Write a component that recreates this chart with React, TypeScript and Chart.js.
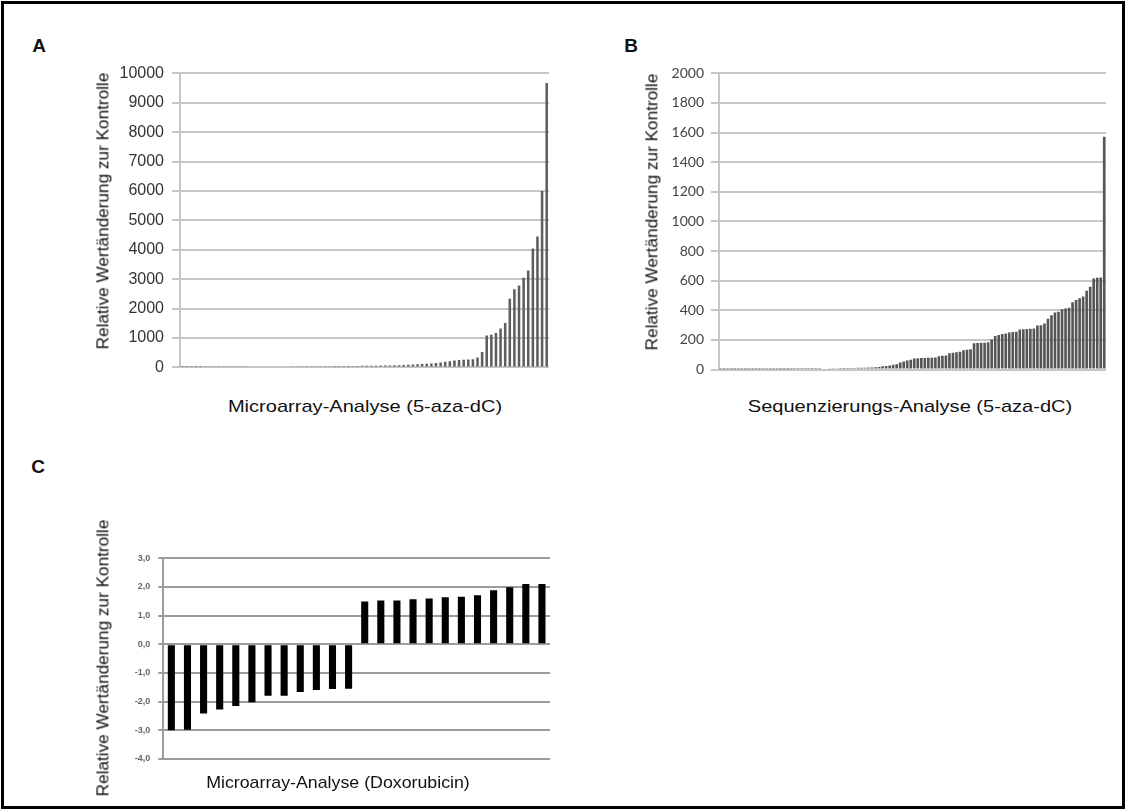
import React, { useEffect, useRef } from 'react';
import { Chart, registerables } from 'chart.js';

Chart.register(...registerables);

// Panel A: Microarray-Analyse (5-aza-dC)
const valuesA = [
  12, 14, 15, 16, 17, 18, 19, 20, 20, 21,
  22, 23, 24, 25, 26, 27, 27, 28, 29, 30,
  31, 32, 33, 34, 35, 36, 37, 38, 39, 40,
  41, 42, 43, 44, 45, 46, 47, 48, 50, 52,
  54, 56, 58,
  62, 65, 68, 72, 76, 80, 88, 96, 104, 112,
  122, 135, 150, 168, 188, 210, 232, 248, 258, 270,
  281, 335, 526, 1086, 1106, 1173, 1320, 1508, 2336, 2660,
  2782, 3050, 3297, 4045, 4450, 6000, 9670,
];

// Panel B: Sequenzierungs-Analyse (5-aza-dC)
const valuesB = [
  2, 2, 2, 2, 2, 2, 2, 2, 2, 3, 3, 3, 3, 3, 3, 3, 3, 3, 3, 3, 3,
  4, 4, 4, 4, 4, 4, 4, 4,
  8, 8, 9, 9, 9, 10, 10, 10, 11, 11, 12, 12, 13, 14, 15, 16, 18,
  22, 25, 28, 32, 36,
  48, 55, 62, 67,
  75, 77, 78, 79, 80, 80, 82,
  90, 93, 95,
  110, 114, 117, 120,
  130, 134, 137,
  178, 180, 181, 182, 184,
  204,
  227, 233, 240, 244,
  250, 253, 256,
  270, 272, 274, 276, 278,
  298, 300,
  311,
  344, 367,
  386, 390,
  407, 412, 417,
  455, 470, 482, 493,
  533, 560,
  615, 620, 622,
  1571,
];

// Panel C: Microarray-Analyse (Doxorubicin)
const valuesC = [
  -3.0, -2.98, -2.41, -2.27, -2.15, -2.02, -1.79, -1.79, -1.66, -1.59, -1.56, -1.55,
  1.49, 1.53, 1.53, 1.57, 1.6, 1.64, 1.66, 1.71, 1.89, 1.99, 2.1, 2.1,
];

const yLabel = 'Relative Wertänderung zur Kontrolle';
const titleA = 'Microarray-Analyse (5-aza-dC)';
const titleB = 'Sequenzierungs-Analyse (5-aza-dC)';
const titleC = 'Microarray-Analyse (Doxorubicin)';

const ARIAL = '"Liberation Sans", Arial, sans-serif';

type PanelProps = {
  values: number[];
  left: number;
  top: number;
  width: number;
  height: number;
  pad: { top: number; right: number; bottom: number };
  yWidth: number;
  min: number;
  max: number;
  step: number;
  barColor: string;
  barPct: number;
  gridColor: string;
  gridWidth: number;
  tickLength: number;
  tickPadding: number;
  tickFont: { family: string; size: number; weight?: string };
  tickColor: string;
  format: (v: number) => string;
};

function BarPanel(p: PanelProps) {
  const ref = useRef<HTMLCanvasElement | null>(null);
  useEffect(() => {
    if (!ref.current) return;
    const chart = new Chart(ref.current, {
      type: 'bar',
      data: {
        labels: p.values.map((_, i) => String(i + 1)),
        datasets: [
          {
            data: p.values,
            backgroundColor: p.barColor,
            borderWidth: 0,
            barPercentage: p.barPct,
            categoryPercentage: 1,
          },
        ],
      },
      options: {
        responsive: false,
        animation: false,
        devicePixelRatio: 1,
        layout: { padding: { top: p.pad.top, right: p.pad.right, bottom: p.pad.bottom, left: 0 } },
        plugins: { legend: { display: false }, tooltip: { enabled: false }, title: { display: false } },
        scales: {
          x: { display: false },
          y: {
            min: p.min,
            max: p.max,
            afterFit: (scale: any) => {
              scale.width = p.yWidth;
            },
            ticks: {
              stepSize: p.step,
              padding: p.tickPadding,
              color: p.tickColor,
              font: p.tickFont as any,
              callback: (v: any) => p.format(Number(v)),
            },
            grid: {
              color: p.gridColor,
              lineWidth: p.gridWidth,
              tickLength: p.tickLength,
              drawTicks: true,
            },
            border: { display: true, color: p.gridColor, width: p.gridWidth },
          },
        },
      },
    });
    return () => chart.destroy();
  }, []);
  return (
    <canvas
      ref={ref}
      width={p.width}
      height={p.height}
      style={{ position: 'absolute', left: p.left, top: p.top, width: p.width, height: p.height }}
    />
  );
}

function Text(props: {
  x: number;
  y: number;
  text: string;
  size: number;
  rotate?: boolean;
  bold?: boolean;
  stretch?: number;
}) {
  const parts = ['translate(-50%, -50%)'];
  if (props.rotate) parts.push('rotate(-90deg)');
  if (props.stretch) parts.push(`scaleX(${props.stretch})`);
  return (
    <div
      style={{
        position: 'absolute',
        left: props.x,
        top: props.y,
        transform: parts.join(' '),
        whiteSpace: 'nowrap',
        fontFamily: ARIAL,
        fontSize: props.size,
        fontWeight: props.bold ? 'bold' : 'normal',
        color: '#111',
        lineHeight: 1,
      }}
    >
      {props.text}
    </div>
  );
}

export default function App() {
  const fmtInt = (v: number) => String(v);
  const fmtC = (v: number) => v.toFixed(1).replace('.', ',');
  return (
    <div style={{ position: 'fixed', left: 0, top: 0, width: 1127, height: 811, background: '#fff', overflow: 'hidden' }}>
      <div
        style={{
          position: 'absolute',
          left: 1,
          top: 1,
          width: 1124,
          height: 808,
          border: '3px solid #000',
          boxSizing: 'border-box',
        }}
      />
      <Text x={39} y={45} text="A" size={19} bold />
      <Text x={631} y={45} text="B" size={19} bold />
      <Text x={38} y={466} text="C" size={19} bold />

      <BarPanel
        values={valuesA}
        left={80}
        top={55}
        width={480}
        height={330}
        pad={{ top: 18.3, right: 11, bottom: 13.3 }}
        yWidth={100}
        min={0}
        max={10000}
        step={1000}
        barColor="#5e5e5e"
        barPct={0.55}
        gridColor="#c6c6c6"
        gridWidth={2}
        tickLength={8}
        tickPadding={8}
        tickFont={{ family: ARIAL, size: 16 }}
        tickColor="#333"
        format={fmtInt}
      />
      <Text x={103} y={211} text={yLabel} size={17.2} rotate />
      <Text x={365} y={406} text={titleA} size={17} stretch={1.18} />

      <BarPanel
        values={valuesB}
        left={620}
        top={55}
        width={500}
        height={330}
        pad={{ top: 18.3, right: 14, bottom: 11.7 }}
        yWidth={99}
        min={0}
        max={2000}
        step={200}
        barColor="#555"
        barPct={0.75}
        gridColor="#c6c6c6"
        gridWidth={2}
        tickLength={8}
        tickPadding={7}
        tickFont={{ family: 'Lato, sans-serif', size: 14 }}
        tickColor="#444"
        format={fmtInt}
      />
      <Text x={652} y={212} text={yLabel} size={17.2} rotate />
      <Text x={910} y={406} text={titleB} size={17} stretch={1.18} />

      <BarPanel
        values={valuesC}
        left={80}
        top={540}
        width={480}
        height={235}
        pad={{ top: 18.3, right: 10, bottom: 16 }}
        yWidth={83.3}
        min={-4}
        max={3}
        step={1}
        barColor="#000"
        barPct={0.44}
        gridColor="#9c9c9c"
        gridWidth={2}
        tickLength={5}
        tickPadding={8}
        tickFont={{ family: ARIAL, size: 9, weight: 'bold' }}
        tickColor="#666"
        format={fmtC}
      />
      <Text x={103} y={658} text={yLabel} size={17.2} rotate />
      <Text x={338} y={782} text={titleC} size={17} stretch={1.045} />
    </div>
  );
}
